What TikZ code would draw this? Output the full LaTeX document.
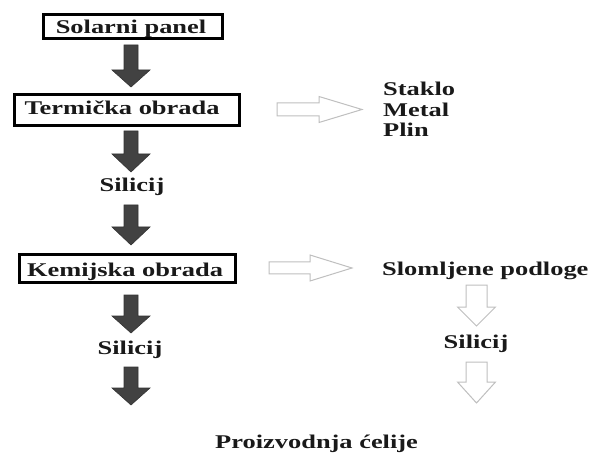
\documentclass[tikz,border=0pt]{standalone}
\usepackage{fontspec}
\setmainfont{Liberation Serif}[FakeStretch=1.36]
\begin{document}
\begin{tikzpicture}[x=1bp,y=-1bp,
  txt/.style={inner sep=0pt,font=\fontsize{19.5}{20.5}\selectfont\bfseries,text=black!90},
  stepbox/.style={draw=black,line width=3bp,inner sep=0pt},
  darkarrow/.style={fill=black!74,draw=black!80,line width=0.6bp,line join=miter},
  lightarrow/.style={fill=white,draw=black!25,line width=1bp,line join=miter}]
\useasboundingbox (0,0) rectangle (597,453);
\newcommand\dnarrow[7]{%
  \path[#1] ({#2-#6},#3) -- ({#2+#6},#3) -- ({#2+#6},#4) -- ({#2+#7},#4) -- (#2,#5)
    -- ({#2-#7},#4) -- ({#2-#6},#4) -- cycle;}
\newcommand\rtarrow[7]{%
  \path[#1] (#3,{#2-#6}) -- (#3,{#2+#6}) -- (#4,{#2+#6}) -- (#4,{#2+#7}) -- (#5,#2)
    -- (#4,{#2-#7}) -- (#4,{#2-#6}) -- cycle;}
% boxes
\node[stepbox,minimum width=179bp,minimum height=24bp] (b1) at (133,26.5) {};
\node[stepbox,minimum width=224bp,minimum height=30.5bp] (b2) at (127,110.25) {};
\node[stepbox,minimum width=215bp,minimum height=28bp] (b3) at (127.5,268.5) {};
% texts
\node[txt,anchor=base] (t1) at (131,34) {Solarni panel};
\node[txt,anchor=base] (t2) at (122,115) {Termička obrada};
\node[txt,anchor=base] (s1) at (132,192) {Silicij};
\node[txt,anchor=base] (t3) at (125,277) {Kemijska obrada};
\node[txt,anchor=base] (s2) at (130,354) {Silicij};
\node[txt,anchor=base west] (pc) at (215,448) {Proizvodnja ćelije};
\node[txt,anchor=base west] (m1) at (383,96) {Staklo};
\node[txt,anchor=base west] (m2) at (383,116.5) {Metal};
\node[txt,anchor=base west] (m3) at (383,137) {Plin};
\node[txt,anchor=base west] (sl) at (382,276) {Slomljene podloge};
\node[txt,anchor=base] (s3) at (476,348) {Silicij};
% dark arrows
\dnarrow{darkarrow}{131}{45}{70}{87}{7}{19}
\dnarrow{darkarrow}{131}{131}{154}{172}{7}{19}
\dnarrow{darkarrow}{131}{205}{227}{245}{7}{19}
\dnarrow{darkarrow}{131}{295}{316}{333}{7}{19}
\dnarrow{darkarrow}{131}{367}{388}{405}{7}{19}
% light arrows
\rtarrow{lightarrow}{109.5}{277}{319}{362}{6.5}{13}
\rtarrow{lightarrow}{268}{269}{310}{352}{6}{13}
\dnarrow{lightarrow}{476.5}{285}{307}{326}{10.5}{19}
\dnarrow{lightarrow}{476.5}{362}{382}{403}{10.5}{19}
\end{tikzpicture}
\end{document}
